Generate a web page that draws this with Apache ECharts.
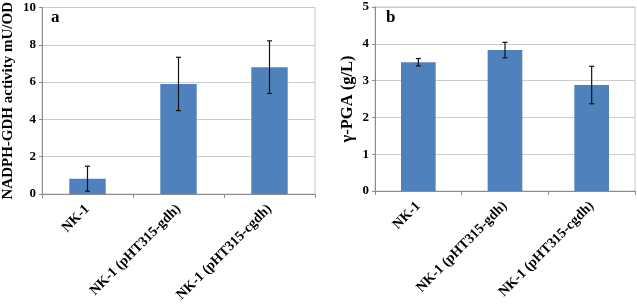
<!DOCTYPE html>
<html>
<head>
<meta charset="utf-8">
<script src="https://cdn.jsdelivr.net/npm/echarts@6/dist/echarts.min.js"></script>
<style>
  html, body { margin: 0; padding: 0; background: #fff; }
  #main { width: 637px; height: 308px; }
</style>
</head>
<body>
<div id="main"></div>
<script>
// strains on the x axis
var categories = ['NK-1', 'NK-1 (pHT315-gdh)', 'NK-1 (pHT315-cgdh)'];
// panel a: NADPH-GDH activity mU/OD
var gdhValues = [0.82, 5.9, 6.8];
var gdhErrors = [0.67, 1.43, 1.41];
// panel b: γ-PGA (g/L)
var pgaValues = [3.5, 3.83, 2.88];
var pgaErrors = [0.1, 0.21, 0.51];

var serif = "'Liberation Serif', 'Times New Roman', serif";
var blue = '#4F81BD';

var chart = echarts.init(document.getElementById('main'), null, { renderer: 'canvas' });

// 误差线
function errorData(values, errors) {
  return values.map(function (v, i) {
    return [i, v - errors[i], v + errors[i]];
  });
}
function renderError(params, api) {
  var lo = api.coord([api.value(0), api.value(1)]);
  var hi = api.coord([api.value(0), api.value(2)]);
  var cap = 2.5;
  var st = { stroke: '#111', lineWidth: 1.2 };
  return {
    type: 'group',
    children: [
      { type: 'line', shape: { x1: hi[0], y1: hi[1], x2: lo[0], y2: lo[1] }, style: st },
      { type: 'line', shape: { x1: hi[0] - cap, y1: hi[1], x2: hi[0] + cap, y2: hi[1] }, style: st },
      { type: 'line', shape: { x1: lo[0] - cap, y1: lo[1], x2: lo[0] + cap, y2: lo[1] }, style: st }
    ]
  };
}

function xAxisOpt(gridIndex) {
  return {
    type: 'category',
    gridIndex: gridIndex,
    data: categories,
    axisLine: { lineStyle: { color: '#8c8c8c', width: 1 } },
    axisTick: { show: true, length: 4, lineStyle: { color: '#8c8c8c' } },
    axisLabel: {
      rotate: 45,
      interval: 0,
      margin: 13,
      color: '#000',
      fontFamily: serif,
      fontWeight: 'bold',
      fontSize: 14
    }
  };
}
function yAxisOpt(gridIndex, max, interval, name, gap, nameSize) {
  return {
    type: 'value',
    gridIndex: gridIndex,
    min: 0,
    max: max,
    interval: interval,
    name: name,
    nameLocation: 'middle',
    nameGap: gap,
    nameTextStyle: { color: '#000', fontFamily: serif, fontWeight: 'bold', fontSize: nameSize },
    axisLine: { show: true, lineStyle: { color: '#8c8c8c' } },
    axisTick: { show: true, length: 3, lineStyle: { color: '#8c8c8c' } },
    splitLine: { lineStyle: { color: '#cccccc' } },
    axisLabel: { color: '#000', fontFamily: serif, fontWeight: 'bold', fontSize: 13, margin: 6 }
  };
}

chart.setOption({
  animation: false,
  backgroundColor: '#fff',
  title: [
    { text: 'a', left: 46, top: 4, textStyle: { fontFamily: serif, fontWeight: 'bold', fontSize: 17, color: '#000' } },
    { text: 'b', left: 381, top: 4, textStyle: { fontFamily: serif, fontWeight: 'bold', fontSize: 17, color: '#000' } }
  ],
  grid: [
    { left: 40, right: 322, top: 5, bottom: 114, show: true, borderColor: '#c8c8c8', borderWidth: 1 },
    { left: 375, right: 2, top: 7, bottom: 117, show: true, borderColor: '#c8c8c8', borderWidth: 1 }
  ],
  xAxis: [xAxisOpt(0), xAxisOpt(1)],
  yAxis: [
    yAxisOpt(0, 10, 2, 'NADPH-GDH activity mU/OD', 26, 15),
    yAxisOpt(1, 5, 1, 'γ-PGA (g/L)', 19, 16.5)
  ],
  series: [
    { type: 'bar', xAxisIndex: 0, yAxisIndex: 0, data: gdhValues, barWidth: '40%', itemStyle: { color: blue } },
    { type: 'custom', xAxisIndex: 0, yAxisIndex: 0, data: errorData(gdhValues, gdhErrors), renderItem: renderError, z: 5 },
    { type: 'bar', xAxisIndex: 1, yAxisIndex: 1, data: pgaValues, barWidth: '40%', itemStyle: { color: blue } },
    { type: 'custom', xAxisIndex: 1, yAxisIndex: 1, data: errorData(pgaValues, pgaErrors), renderItem: renderError, z: 5 }
  ]
});
</script>
</body>
</html>
